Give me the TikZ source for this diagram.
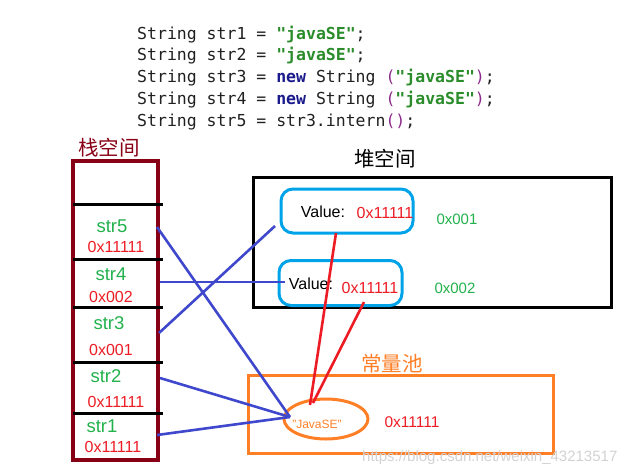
\documentclass[tikz,border=0pt]{standalone}
\usepackage{fontspec}
\setmainfont{Liberation Sans}
\setmonofont{DejaVu Sans Mono}
\newfontfamily\cjk{Noto Sans CJK SC}
\usetikzlibrary{shapes.geometric}
\definecolor{stackred}{HTML}{880015}
\definecolor{strgreen}{HTML}{22B14C}
\definecolor{addrred}{HTML}{ED1C24}
\definecolor{cyanbox}{HTML}{00A2E8}
\definecolor{poolorange}{HTML}{FF7F27}
\definecolor{linkblue}{HTML}{3F48CC}
\definecolor{codegreen}{HTML}{2A8C2A}
\definecolor{codenavy}{HTML}{1A1A8C}
\definecolor{codepurple}{HTML}{8B2A8B}
\definecolor{codetext}{HTML}{202020}
\tikzset{
  codeline/.style={anchor=base west, inner sep=0pt, font=\ttfamily\fontsize{16.5}{18}\selectfont, text=codetext},
  varname/.style={text=strgreen, font=\fontsize{18.5}{20}\selectfont, inner sep=0pt},
  addr/.style={text=addrred, font=\fontsize{16}{18}\selectfont, inner sep=0pt},
  heapaddr/.style={text=strgreen, font=\fontsize{15}{17}\selectfont, inner sep=0pt},
  title/.style={font=\cjk\fontsize{20.5}{22}\selectfont, inner sep=0pt},
  thick3/.style={line width=3pt},
  valbox/.style={draw=cyanbox, thick3, rounded corners=12pt},
  bluelink/.style={draw=linkblue, line width=2.6pt},
  redlink/.style={draw=addrred, line width=2.6pt},
  divider/.style={draw=black, thick3},
}
\newcommand{\jstr}{\textcolor{codegreen}{\textbf{"javaSE"}}}
\newcommand{\jnew}{\textcolor{codenavy}{\textbf{new}}}
\newcommand{\lp}{\textcolor{codepurple}{(}}
\newcommand{\rp}{\textcolor{codepurple}{)}}
\begin{document}
\begin{tikzpicture}[x=1pt,y=-1pt]
\useasboundingbox (0,0) rectangle (643,475);
% code
\node[codeline] (c1) at (137,39) {String str1 = \jstr;};
\node[codeline] (c2) at (137,60.75) {String str2 = \jstr;};
\node[codeline] (c3) at (137,82.5) {String str3 = \jnew{} String \lp\jstr\rp;};
\node[codeline] (c4) at (137,104.25) {String str4 = \jnew{} String \lp\jstr\rp;};
\node[codeline] (c5) at (137,126) {String str5 = str3.intern\lp\rp;};
% stack
\node[title, text=stackred] (stacklbl) at (109,148) {栈空间};
\node[draw=stackred, line width=3.5pt, minimum width=85pt, minimum height=299pt, inner sep=0pt] (stack) at (115.5,310.5) {};
\foreach \yy in {204,259,307,362,413} \draw[divider] (73,\yy) -- (163,\yy);
\node[varname] (s5) at (112,226) {str5};
\node[addr] (a5) at (116,247) {0x11111};
\node[varname] (s4) at (111,274) {str4};
\node[addr] (a4) at (111,297) {0x002};
\node[varname] (s3) at (109,323) {str3};
\node[addr] (a3) at (111,350) {0x001};
\node[varname] (s2) at (106,376) {str2};
\node[addr] (a2) at (116,402) {0x11111};
\node[varname] (s1) at (102,426) {str1};
\node[addr] (a1) at (113,447) {0x11111};
% heap
\node[title] (heaplbl) at (385,159) {堆空间};
\node[draw=black, thick3, minimum width=358pt, minimum height=130pt, inner sep=0pt] (heap) at (432,242) {};
\node[valbox, minimum width=132pt, minimum height=44pt, inner sep=0pt] (v1) at (347,211) {};
\node[font=\fontsize{16}{18}\selectfont, inner sep=0pt] (v1t) at (323,212) {Value:};
\node[addr] (v1a) at (385,213) {0x11111};
\node[heapaddr] (h1) at (457,219) {0x001};
\node[valbox, minimum width=123pt, minimum height=45pt, inner sep=0pt] (v2) at (340.5,283) {};
\node[font=\fontsize{16}{18}\selectfont, inner sep=0pt] (v2t) at (311,284) {Value:};
\node[addr] (v2a) at (370,288) {0x11111};
\node[heapaddr] (h2) at (455,288) {0x002};
% constant pool
\node[title, text=poolorange] (poollbl) at (392,364) {常量池};
\node[draw=poolorange, thick3, minimum width=305pt, minimum height=78pt, inner sep=0pt] (pool) at (400.5,414) {};
\node[draw=poolorange, thick3, ellipse, minimum width=84pt, minimum height=40pt, inner sep=0pt] (jse) at (326,419) {};
\node[text=poolorange, font=\fontsize{12}{14}\selectfont, inner sep=0pt] (jset) at (317,424) {"JavaSE"};
\node[addr, font=\fontsize{15.5}{17}\selectfont] (pa) at (412,422) {0x11111};
% connector endpoints
\coordinate (p5) at (157,227);
\coordinate (p4) at (160,282);
\coordinate (p3) at (159,333);
\coordinate (p2) at (160,378);
\coordinate (p1) at (157,435);
\coordinate (jin) at (290,417);
\coordinate (v1in) at (275,226);
\coordinate (v2in) at (285,282);
\coordinate (v1out) at (336,233);
\coordinate (v2out) at (364,302);
\coordinate (jtop1) at (310,405);
\coordinate (jtop2) at (313,403);
% blue links
\draw[bluelink] (p5) -- (jin);
\draw[bluelink] (p4) -- (v2in);
\draw[bluelink] (p3) -- (v1in);
\draw[bluelink] (p2) -- (jin);
\draw[bluelink] (p1) -- (jin);
% red links
\draw[redlink] (v1out) -- (jtop1);
\draw[redlink] (v2out) -- (jtop2);
% watermark
\node[text=gray!35, font=\fontsize{15}{17}\selectfont, inner sep=0pt, anchor=west] (wm) at (362,458) {https://blog.csdn.net/weixin\_43213517};
\end{tikzpicture}
\end{document}
